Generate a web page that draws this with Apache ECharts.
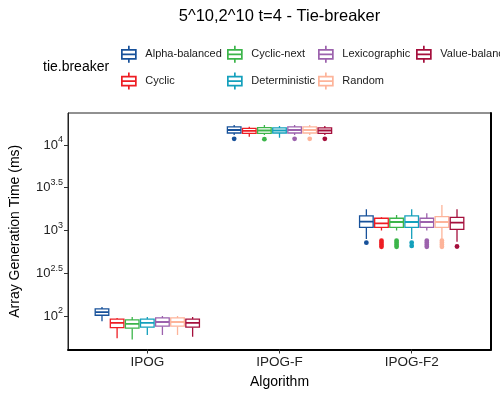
<!DOCTYPE html>
<html>
<head>
<meta charset="utf-8">
<script src="https://cdn.jsdelivr.net/npm/echarts@6/dist/echarts.min.js"></script>
<style>html,body{margin:0;padding:0;background:#fff}#c{width:500px;height:400px}</style>
</head>
<body>
<div id="c"></div>
<script>
// ---- data (ms) ----
const categories = ['IPOG', 'IPOG-F', 'IPOG-F2'];
const tieBreakers = ['Alpha-balanced', 'Cyclic', 'Cyclic-next', 'Deterministic', 'Lexicographic', 'Random', 'Value-balanced'];
const colors = ['#17519A', '#EE1D23', '#3CB54A', '#14A0BC', '#9C62AD', '#FDB49A', '#A50F3C'];
const yTickExponents = [2, 2.5, 3, 3.5, 4];
// per algorithm: [min, q1, median, q3, max]
const alphaBalanced = [[87, 102, 111, 121, 127], [13090, 13800, 14970, 16250, 17150], [796, 1089, 1268, 1479, 1770]];
const cyclic        = [[55, 73, 83, 92, 95],     [12500, 13700, 14590, 15670, 16360], [1000, 1089, 1213, 1390, 1427]];
const cyclicNext    = [[53, 72, 81, 90, 97],     [13090, 13700, 14770, 15920, 17150], [1000, 1089, 1257, 1390, 1517]];
const deterministic = [[60, 74, 83, 92, 97],     [12170, 13800, 14770, 15820, 16700], [796, 1089, 1257, 1479, 1770]];
const lexicographic = [[60, 76, 85, 95, 100],    [13090, 13800, 14970, 16250, 17150], [1000, 1089, 1257, 1390, 1588]];
const random        = [[60, 76, 85, 95, 100],    [13090, 13800, 14970, 16250, 17150], [796, 1089, 1257, 1449, 1986]];
const valueBalanced = [[57, 74, 83, 92, 97],     [13090, 13700, 14770, 15820, 16700], [739, 1032, 1233, 1427, 1770]];
// outliers per algorithm
const alphaBalancedOut = [[], [11800], [720]];
const cyclicOut        = [[], [], [645, 680, 720, 760]];
const cyclicNextOut    = [[], [11700], [645, 680, 720, 760]];
const deterministicOut = [[], [], [660, 720]];
const lexicographicOut = [[], [11800], [645, 680, 720, 760]];
const randomOut        = [[], [11800], [645, 680, 720, 760]];
const valueBalancedOut = [[], [11800], [650]];

const stats = [alphaBalanced, cyclic, cyclicNext, deterministic, lexicographic, random, valueBalanced];
const outs = [alphaBalancedOut, cyclicOut, cyclicNextOut, deterministicOut, lexicographicOut, randomOut, valueBalancedOut];

const FONT = 'Liberation Sans, Arial, Helvetica, sans-serif';
const dodgeWidth = 0.8;
const nS = tieBreakers.length;
const slot = dodgeWidth / nS;

function makeRender(s) {
  const col = colors[s];
  return function (params, api) {
    const cat = api.value(0);
    const x = cat + (s - (nS - 1) / 2) * slot;
    const v = [api.value(1), api.value(2), api.value(3), api.value(4), api.value(5)];
    const half = api.size([slot * 0.9, 0])[0] / 2;
    const pMin = api.coord([x, v[0]]);
    const pQ1 = api.coord([x, v[1]]);
    const pMed = api.coord([x, v[2]]);
    const pQ3 = api.coord([x, v[3]]);
    const pMax = api.coord([x, v[4]]);
    const cx = pMed[0];
    const lw = 1.3;
    const children = [
      {type: 'line', shape: {x1: cx, y1: pQ3[1], x2: cx, y2: pMax[1]}, style: {stroke: col, lineWidth: lw}},
      {type: 'line', shape: {x1: cx, y1: pQ1[1], x2: cx, y2: pMin[1]}, style: {stroke: col, lineWidth: lw}},
      {type: 'rect', shape: {x: cx - half, y: pQ3[1], width: half * 2, height: pQ1[1] - pQ3[1]}, style: {fill: '#fff', stroke: col, lineWidth: lw}},
      {type: 'line', shape: {x1: cx - half, y1: pMed[1], x2: cx + half, y2: pMed[1]}, style: {stroke: col, lineWidth: lw * 1.4}}
    ];
    (outs[s][params.dataIndex] || []).forEach(function (o) {
      const p = api.coord([x, Math.log10(o)]);
      children.push({type: 'circle', shape: {cx: p[0], cy: p[1], r: 2.4}, style: {fill: col}});
    });
    return {type: 'group', children: children};
  };
}

const series = tieBreakers.map(function (name, s) {
  return {
    name: name,
    type: 'custom',
    renderItem: makeRender(s),
    itemStyle: {color: colors[s], borderColor: colors[s]},
    encode: {x: 0, y: [1, 2, 3, 4, 5]},
    data: stats[s].map(function (st, i) { return [i].concat(st.map(function (d) { return Math.log10(d); })); }),
    clip: true,
    silent: true
  };
});

const iconPath = 'path://M7,0L7,4M0,4L14,4L14,13L0,13ZM0,8.5L14,8.5M7,13L7,17';
const legendCols = [[0, 1], [2, 3], [4, 5], [6]];
const legendLeft = [116, 222, 313, 411];
const legends = legendCols.map(function (idxs, c) {
  return {
    orient: 'vertical',
    left: legendLeft[c],
    top: 40,
    itemWidth: 15,
    itemHeight: 17,
    itemGap: 8,
    selectedMode: false,
    icon: iconPath,
    textStyle: {fontFamily: FONT, fontSize: 11, color: '#1a1a1a', padding: [0, 0, 0, 4]},
    data: idxs.map(function (i) {
      return {name: tieBreakers[i], itemStyle: {color: '#fff', borderColor: colors[i], borderWidth: 1.7}};
    })
  };
});

const chart = echarts.init(document.getElementById('c'), null, {renderer: 'canvas'});
chart.setOption({
  animation: false,
  textStyle: {fontFamily: FONT},
  graphic: [
    {type: 'text', x: 279.5, y: 16, style: {text: '5^10,2^10 t=4 - Tie-breaker', fontFamily: FONT, fontSize: 16.5, fill: '#000', align: 'center', verticalAlign: 'middle'}},
    {type: 'text', x: 43, y: 67.5, style: {text: 'tie.breaker', fontFamily: FONT, fontSize: 14, fill: '#000', align: 'left', verticalAlign: 'middle'}}
  ],
  legend: legends,
  grid: {left: 68, right: 9, top: 113, bottom: 50.5, show: true, borderColor: '#222', borderWidth: 1, backgroundColor: '#fff'},
  xAxis: {
    type: 'value', min: -0.6, max: 2.6,
    name: 'Algorithm', nameLocation: 'middle', nameGap: 26,
    nameTextStyle: {fontFamily: FONT, fontSize: 14, color: '#000'},
    axisLine: {show: true, onZero: false, lineStyle: {color: '#000', width: 2}},
    axisTick: {show: true, length: 4, customValues: [0, 1, 2], lineStyle: {color: '#333'}},
    axisLabel: {customValues: [0, 1, 2], margin: 6, fontSize: 13.5, color: '#222', formatter: function (v) { return categories[Math.round(v)]; }},
    splitLine: {show: false}
  },
  yAxis: [{
    type: 'value', min: 1.608, max: 4.374,
    name: 'Array Generation Time (ms)', nameLocation: 'middle', nameGap: 46,
    nameTextStyle: {fontFamily: FONT, fontSize: 14, color: '#000'},
    axisLine: {show: true, onZero: false, lineStyle: {color: '#222', width: 1}},
    axisTick: {show: true, length: 4, customValues: yTickExponents, lineStyle: {color: '#333'}},
    axisLabel: {
      customValues: yTickExponents, margin: 5,
      formatter: function (v) {
        const e = Math.abs(v - Math.round(v)) < 1e-6 ? String(Math.round(v)) : v.toFixed(1);
        return '{b|10}{s|' + e + '}';
      },
      rich: {
        b: {fontFamily: FONT, fontSize: 13, color: '#222'},
        s: {fontFamily: FONT, fontSize: 9, color: '#222', padding: [0, 0, 10, 0]}
      }
    },
    splitLine: {show: false}
  }, {
    type: 'value', min: 1.608, max: 4.374, position: 'right',
    axisLine: {show: true, onZero: false, lineStyle: {color: '#000', width: 2}},
    axisTick: {show: false}, axisLabel: {show: false}, splitLine: {show: false}
  }],
  series: series
});
</script>
</body>
</html>
